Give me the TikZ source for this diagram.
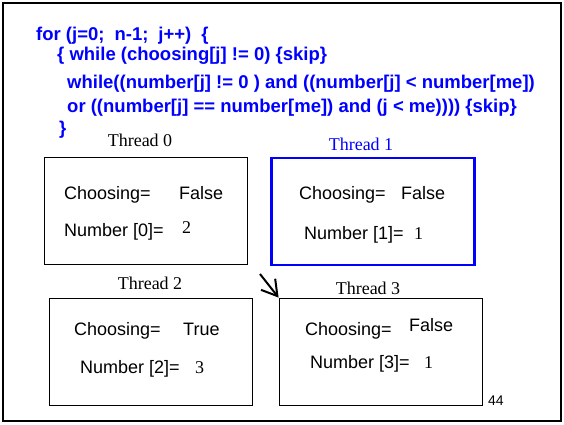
\documentclass[tikz,border=0pt]{standalone}
\usepackage{fontspec}
\setmainfont{Liberation Serif}
\setsansfont{Liberation Sans}
\usetikzlibrary{arrows.meta}
\definecolor{codeblue}{RGB}{0,0,255}

\begin{document}
\begin{tikzpicture}[x=1pt,y=-1pt]
			\tikzstyle{every node}+=[inner sep=0pt]
			\tikzstyle{code}=[anchor=base west, text=codeblue, font=\sffamily\bfseries\fontsize{18.5}{22}\selectfont]
			\tikzstyle{box}=[draw=black, line width=0.8pt, minimum width=203pt, minimum height=107pt]
			\tikzstyle{lbl}=[font=\fontsize{18}{22}\selectfont]
			\tikzstyle{field}=[anchor=base west, font=\sffamily\fontsize{18}{22}\selectfont]
			\tikzstyle{val}=[anchor=base west, font=\fontsize{18}{22}\selectfont]
			\useasboundingbox (0,0) rectangle (564,424);
			\draw [black, line width=2.5pt] (3,3) rectangle (561,421);
			% code
			\draw (36,40) node [code] (l1) {for (j=0;\hspace{10pt}n-1;\hspace{10pt}j++)\hspace{10pt}\{};
			\draw (57,60.5) node [code] (l2) {\{ while (choosing[j] != 0) \{skip\}};
			\draw (67,88) node [code] (l3) {while((number[j] != 0 ) and ((number[j] < number[me])};
			\draw (67,112) node [code] (l4) {or ((number[j] == number[me]) and (j < me)))) \{skip\}};
			\draw (59,134) node [code] (l5) {\}};
			% thread 0
			\draw (140,140) node [lbl] (n0) {Thread 0};
			\node [box] (t0) at (145.5,210.5) {};
			\draw (64,199) node [field] (c0) {Choosing=};
			\draw (179,199) node [field] (b0) {False};
			\draw (64,236) node [field] (k0) {Number [0]=};
			\draw (182,233) node [val] (v0) {2};
			% thread 1
			\draw (361,144) node [lbl, text=codeblue] (n1) {Thread 1};
			\node [box, draw=codeblue, line width=2.4pt] (t1) at (373,211.5) {};
			\draw (299,199) node [field] (c1) {Choosing=};
			\draw (401,199) node [field] (b1) {False};
			\draw (304,239) node [field] (k1) {Number [1]=};
			\draw (414,239) node [val] (v1) {1};
			% thread 2
			\draw (150,283) node [lbl] (n2) {Thread 2};
			\node [box] (t2) at (150.5,351.5) {};
			\draw (74,335) node [field] (c2) {Choosing=};
			\draw (183,335) node [field] (b2) {True};
			\draw (80,373) node [field] (k2) {Number [2]=};
			\draw (195,373) node [val] (v2) {3};
			% thread 3
			\draw (368,288) node [lbl] (n3) {Thread 3};
			\node [box] (t3) at (380.5,351.5) {};
			\draw (305,335) node [field] (c3) {Choosing=};
			\draw (409,331) node [field] (b3) {False};
			\draw (310,368) node [field] (k3) {Number [3]=};
			\draw (424,368) node [val] (v3) {1};
			% pointer
			\coordinate (p) at (260,274);
			\draw [black, line width=2pt, -{Straight Barb[length=15pt,width=18pt]}] (p) -- (t3.north west);
			\draw (488,405) node [anchor=base west, font=\sffamily\fontsize{14}{16}\selectfont] (pg) {44};
		\end{tikzpicture}
\end{document}
